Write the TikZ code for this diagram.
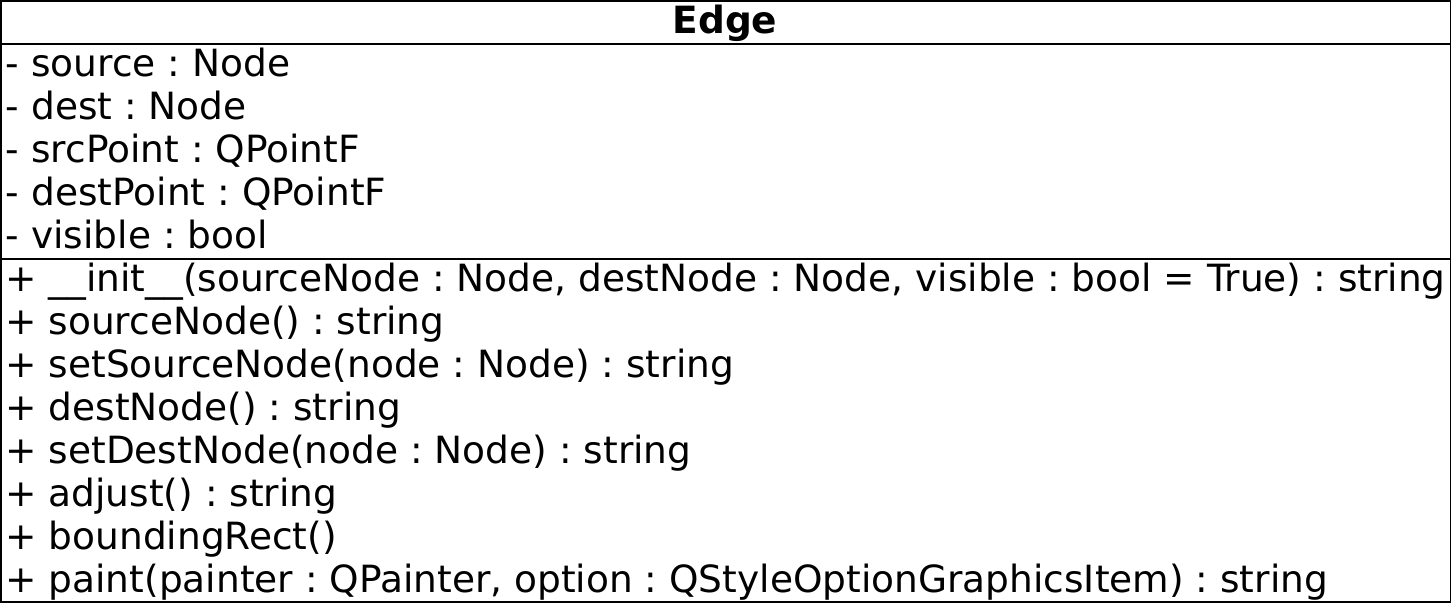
\documentclass[tikz,border=0pt]{standalone}
\usepackage{fontspec}
\setmainfont{DejaVu Sans}
\frenchspacing
\tikzstyle{compartment}=[draw=black, line width=1pt, anchor=north west, inner sep=0pt, outer sep=0pt, minimum width=725pt]
\tikzstyle{member}=[anchor=base west, inner sep=0pt, font=\fontsize{18.75}{21.5}\selectfont]
\tikzstyle{classname}=[anchor=base, inner sep=0pt, font=\fontsize{18.75}{21.5}\selectfont\bfseries]
\begin{document}
\begin{tikzpicture}[x=0.5pt, y=-0.5pt]
    \useasboundingbox (0,0) rectangle (1451,602);
    \node[compartment, minimum height=21.5pt] (head) at (0.5,0.5) {};
    \node[compartment, minimum height=107.5pt] (attrs) at (head.south west) {};
    \node[compartment, minimum height=171.5pt] (ops) at (attrs.south west) {};
    \node[classname] (name) at (725,33) {Edge};
    % attributes
    \node[member] (source) at (5.5,76) {- source : Node};
    \node[member] (dest) at (5.5,119) {- dest : Node};
    \node[member] (srcpoint) at (5.5,162) {- srcPoint : QPointF};
    \node[member] (destpoint) at (5.5,205) {- destPoint : QPointF};
    \node[member] (visible) at (5.5,248) {- visible : bool};
    % operations
    \node[member] (init) at (5,291) {+ \_\_init\_\_(sourceNode : Node, destNode : Node, visible : bool = True) : string};
    \node[member] (getsource) at (5,334) {+ sourceNode() : string};
    \node[member] (setsource) at (5,377) {+ setSourceNode(node : Node) : string};
    \node[member] (getdest) at (5,420) {+ destNode() : string};
    \node[member] (setdest) at (5,463) {+ setDestNode(node : Node) : string};
    \node[member] (adjust) at (5,506) {+ adjust() : string};
    \node[member] (bounding) at (5,549) {+ boundingRect()};
    \node[member] (paint) at (5,592) {+ paint(painter : QPainter, option : QStyleOptionGraphicsItem) : string};
\end{tikzpicture}
\end{document}
